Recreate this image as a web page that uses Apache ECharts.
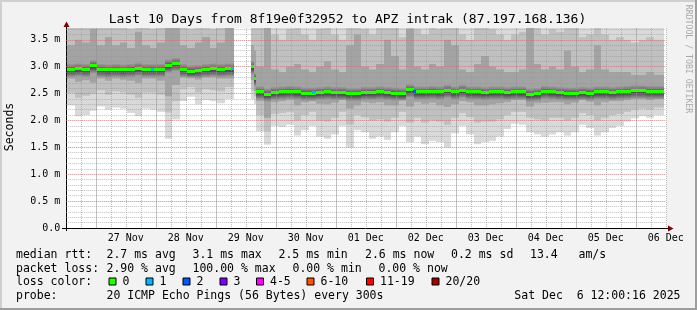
<!DOCTYPE html>
<html><head><meta charset="utf-8">
<script src="https://cdn.jsdelivr.net/npm/echarts@6/dist/echarts.min.js"></script>
<style>html,body{margin:0;padding:0;background:#f2f2f2}#c{width:697px;height:310px}</style>
</head><body><div id="c"></div><script>
// ---------- DATA (time in hours since 26 Nov 00:00, RTT in ms) ----------
const bucketStart = [12.5,15.5,18.5,21.5,24.5,27.5,30.5,33.5,36.5,39.5,42.5,45.5,48.5,51.5,54.5,57.5,60.5,63.5,66.5,69.5,72.5,75.5,
  79.3,
  86.1,87.1,
  88.1,91.1,94.1,97.1,100.1,103.1,106.1,109.1,112.1,115.1,118.1,121.1,124.1,127.1,130.1,133.1,136.1,139.1,142.1,145.1,
  148.1,151.1,154.1,157.1,160.1,163.1,166.1,169.1,172.1,175.1,178.1,181.1,184.1,187.1,190.1,193.1,196.1,199.1,202.1,205.1,
  208.1,211.1,214.1,217.1,220.1,223.1,226.1,229.1,232.1,235.1,238.1,241.1,244.1,247.1,250.1,
  251.3];
const medianRtt = [2.95,2.96,2.95,3.02,2.95,2.94,2.95,2.94,2.95,2.97,2.95,2.95,2.95,3.03,3.06,2.95,2.92,2.93,2.95,2.96,2.95,2.96,
  null,
  3.00,2.78,
  2.53,2.49,2.52,2.53,2.54,2.53,2.51,2.51,2.52,2.53,2.52,2.52,2.50,2.50,2.52,2.52,2.53,2.52,2.51,2.50,
  2.57,2.53,2.53,2.54,2.53,2.56,2.53,2.56,2.53,2.53,2.52,2.53,2.53,2.52,2.53,2.53,2.49,2.50,2.54,2.53,
  2.52,2.51,2.51,2.52,2.51,2.53,2.53,2.52,2.53,2.54,2.55,2.55,2.54,2.54,2.54,
  null];
const pingMin = [2.28,2.08,2.10,2.18,2.26,2.20,2.24,2.22,2.14,2.08,2.22,2.20,2.16,1.66,2.02,2.36,2.44,2.30,2.38,2.36,2.32,2.40,
  null,
  2.40,2.30,
  1.80,1.55,1.90,1.88,1.92,1.72,1.82,1.90,1.70,1.66,1.74,1.90,1.50,1.82,1.78,1.66,1.70,1.64,1.78,1.90,
  1.60,1.70,1.56,1.62,1.60,1.50,1.76,1.90,1.74,1.56,1.60,1.62,1.70,1.84,1.94,1.92,1.78,1.74,1.70,1.74,
  1.78,1.72,1.78,1.92,1.86,1.72,1.78,1.86,1.90,1.98,2.04,2.08,2.05,2.10,2.10,
  null];
const ping10 = [2.52,2.42,2.46,2.50,2.56,2.48,2.54,2.52,2.48,2.42,2.52,2.52,2.48,2.15,2.36,2.58,2.62,2.52,2.58,2.56,2.54,2.62,
  null,
  2.55,2.45,
  2.10,1.80,2.12,2.14,2.16,2.00,2.10,2.16,2.00,1.98,2.05,2.16,1.92,2.10,2.06,2.00,2.02,1.98,2.05,2.16,
  1.96,2.05,1.96,2.00,1.98,1.92,2.05,2.14,2.06,1.96,1.98,1.98,2.02,2.10,2.16,2.16,2.05,2.02,2.00,2.05,
  2.05,2.00,2.05,2.14,2.10,2.00,2.05,2.10,2.12,2.16,2.20,2.22,2.20,2.24,2.24,
  null];
const ping25 = [2.78,2.72,2.75,2.70,2.78,2.74,2.78,2.76,2.74,2.70,2.78,2.78,2.74,2.45,2.66,2.80,2.82,2.76,2.80,2.80,2.78,2.78,
  null,
  2.75,2.55,
  2.36,2.05,2.34,2.36,2.38,2.28,2.34,2.36,2.31,2.30,2.33,2.38,2.22,2.28,2.34,2.32,2.34,2.28,2.28,2.38,
  2.26,2.34,2.31,2.33,2.28,2.25,2.30,2.36,2.34,2.28,2.28,2.30,2.32,2.34,2.38,2.38,2.26,2.32,2.33,2.34,
  2.34,2.30,2.33,2.38,2.35,2.28,2.34,2.36,2.36,2.38,2.40,2.40,2.38,2.40,2.40,
  null];
const ping75 = [3.40,3.50,3.45,3.70,3.40,3.55,3.40,3.45,3.35,3.65,3.40,3.35,3.45,3.90,3.90,3.40,3.35,3.45,3.55,3.35,3.45,3.75,
  null,
  3.40,3.30,
  3.00,3.90,2.95,2.90,3.00,3.05,2.95,2.90,3.00,3.10,2.95,2.90,3.40,3.60,3.00,2.95,3.05,3.50,3.20,2.95,
  3.70,3.00,2.95,3.05,3.00,3.50,3.40,2.95,2.90,3.05,3.20,3.00,2.95,2.90,2.90,2.95,3.80,3.05,2.95,3.00,
  2.95,3.30,3.00,2.90,2.95,3.40,2.95,2.90,2.90,2.90,2.85,2.85,2.90,2.85,2.85,
  null];
const ping90 = [3.80,3.90,3.85,4.00,3.75,3.90,3.80,3.85,3.70,4.00,3.75,3.70,3.80,4.20,4.20,3.75,3.70,3.80,4.00,3.70,3.80,4.00,
  null,
  3.80,3.90,
  3.80,4.20,3.60,3.50,3.70,3.80,3.60,3.50,3.70,3.90,3.60,3.50,4.00,4.10,3.70,3.60,3.80,4.00,3.90,3.55,
  4.10,3.70,3.60,3.80,3.70,4.00,4.00,3.60,3.50,3.80,3.90,3.70,3.60,3.50,3.60,3.65,4.10,3.80,3.60,3.70,
  3.65,4.00,3.80,3.55,3.60,4.00,3.60,3.50,3.55,3.50,3.45,3.50,3.55,3.50,3.50,
  null];
const pingMax = [4.6,4.9,4.7,5.2,4.5,4.8,4.6,4.7,4.5,5.0,4.6,4.5,4.6,5.5,5.4,4.6,4.5,4.6,4.9,4.5,4.6,5.0,
  null,
  4.8,5.0,
  4.7,5.6,4.5,4.4,4.6,4.7,4.5,4.4,4.6,4.8,4.5,4.4,4.9,5.1,4.6,4.5,4.7,5.0,4.8,4.4,
  5.2,4.6,4.5,4.7,4.6,5.0,4.9,4.5,4.4,4.7,4.8,4.6,4.5,4.4,4.5,4.5,5.3,4.7,4.5,4.6,
  4.5,4.9,4.7,4.4,4.5,4.9,4.5,4.4,4.4,4.4,4.3,4.4,4.4,4.3,4.3,
  null];
const lossTimes = [46.4, 78.6, 110.8, 151.2];
const lossRtt   = [2.95, 2.96, 2.52, 2.53];
const lossCount = [1, 1, 1, 2];
const lossColors = ['#26ff00','#00b8ff','#0059ff','#7e00ff','#ff00ff','#ff5500','#ff0000','#a10000'];
const lossLabels = ['0','1','2','3','4-5','6-10','11-19','20/20'];
const dayLabelTimes = [36,60,84,108,132,156,180,204,228,252];
const dayLabels = ['27 Nov','28 Nov','29 Nov','30 Nov','01 Dec','02 Dec','03 Dec','04 Dec','05 Dec','06 Dec'];
const midnightTimes = [24,48,72,96,120,144,168,192,216,240];
const yTickValues = [0,0.5,1,1.5,2,2.5,3,3.5];
const yTickLabels = ['0.0','0.5 m','1.0 m','1.5 m','2.0 m','2.5 m','3.0 m','3.5 m'];
const titleText = 'Last 10 Days from 8f19e0f32952 to APZ intrak (87.197.168.136)';
const legendRows = [
  ['median rtt:', '2.7 ms avg', '3.1 ms max', '2.5 ms min', '2.6 ms now', '0.2 ms sd', '13.4', 'am/s'],
  ['packet loss:', '2.90 % avg', '100.00 % max', '0.00 % min', '0.00 % now'],
  ['probe:', '20 ICMP Echo Pings (56 Bytes) every 300s']
];
const stampText = 'Sat Dec  6 12:00:16 2025';

// ---------- LAYOUT / STYLE ----------
const X_MIN = 12, X_MAX = 252, Y_MAX = 3.72;
const G = {left: 65.75, top: 28, width: 600, height: 200};
const MONO = '"DejaVu Sans Mono", monospace';
const GRID_MINOR = 'rgba(150,150,150,0.6)';
const GRID_MAJOR = 'rgba(230,100,100,0.5)';

function bandData(lo, hi) {
  const out = [];
  for (let i = 0; i < bucketStart.length - 1; i++) {
    if (lo[i] == null || hi[i] == null) continue;
    out.push([bucketStart[i], bucketStart[i + 1], lo[i], hi[i]]);
  }
  return out;
}
function medData() {
  const out = [];
  for (let i = 0; i < bucketStart.length - 1; i++) {
    if (medianRtt[i] == null) continue;
    out.push([bucketStart[i], bucketStart[i + 1], medianRtt[i]]);
  }
  return out;
}
function clip(r, cs) {
  return echarts.graphic.clipRectByRect(r, {x: cs.x, y: cs.y, width: cs.width, height: cs.height});
}
function bandRender(color) {
  return function (params, api) {
    const a = api.coord([api.value(0), api.value(3)]);
    const b = api.coord([api.value(1), api.value(2)]);
    const x0 = Math.round(a[0]), x1 = Math.round(b[0]);
    const r = clip({x: x0, y: a[1], width: x1 - x0, height: b[1] - a[1]}, params.coordSys);
    return r && {type: 'rect', shape: r, style: {fill: color}};
  };
}
function haloRender(params, api) {
  const a = api.coord([api.value(0), api.value(2)]);
  const b = api.coord([api.value(1), api.value(2)]);
  const x0 = Math.round(a[0]), x1 = Math.round(b[0]);
  const r = clip({x: x0, y: a[1] - 6, width: x1 - x0, height: 14}, params.coordSys);
  return r && {type: 'rect', shape: r, style: {fill: new echarts.graphic.LinearGradient(0, 0, 0, 1, [
    {offset: 0, color: 'rgba(50,50,50,0)'},
    {offset: 0.45, color: 'rgba(50,50,50,0.75)'},
    {offset: 0.6, color: 'rgba(50,50,50,0.75)'},
    {offset: 1, color: 'rgba(50,50,50,0)'}])}};
}
function medRender(params, api) {
  const a = api.coord([api.value(0), api.value(2)]);
  const b = api.coord([api.value(1), api.value(2)]);
  const x0 = Math.round(a[0]), x1 = Math.round(b[0]);
  const y0 = Math.round(a[1] - 1.5);
  return {type: 'rect', shape: {x: x0, y: y0, width: x1 - x0, height: 3}, style: {fill: lossColors[0]}};
}
function lossRender(params, api) {
  const p = api.coord([api.value(0), api.value(1)]);
  return {type: 'rect', shape: {x: Math.round(p[0] - 1.25), y: Math.round(p[1] - 1.5), width: 3, height: 3},
    style: {fill: lossColors[api.value(2)]}};
}
function vGridRender(params, api) {
  const top = api.coord([api.value(0), Y_MAX]);
  const bot = api.coord([api.value(0), 0]);
  const x = Math.round(top[0]) + 0.5;
  return {type: 'line', shape: {x1: x, y1: bot[1], x2: x, y2: top[1]},
    style: {stroke: GRID_MAJOR, lineWidth: 1, lineDash: [1, 1]}};
}

const chart = echarts.init(document.getElementById('c'), null, {renderer: 'canvas'});
const legendGraphics = [];
const rowY = [255, 268.6, 282.2, 296];
const colX1 = [16, 106.5, 192.5, 278.5, 365, 451, 530, 578.5];
const colX2 = [16, 106.5, 192.5, 292.5, 378.5];
function txt(x, y, s, size, extra) {
  return Object.assign({type: 'text', x: x, y: y, silent: true,
    style: Object.assign({text: s, font: size + 'px ' + MONO, fill: '#000', verticalAlign: 'middle', align: 'left'}, extra || {})});
}
legendRows[0].forEach((s, i) => legendGraphics.push(txt(colX1[i], rowY[0], s, 11.5)));
legendRows[1].forEach((s, i) => legendGraphics.push(txt(colX2[i], rowY[1], s, 11.5)));
legendGraphics.push(txt(16, rowY[2], 'loss color:', 11.5));
const sqX = [108.5, 145.5, 182.5, 219.5, 256, 306.5, 366, 431.5];
lossLabels.forEach((s, i) => {
  legendGraphics.push({type: 'rect', silent: true, shape: {x: sqX[i] + 0.5, y: 278, width: 7, height: 7},
    style: {fill: lossColors[i], stroke: '#000', lineWidth: 1}});
  legendGraphics.push(txt(sqX[i] + 14, rowY[2], s, 11.5));
});
legendGraphics.push(txt(16, rowY[3], legendRows[2][0], 11.5));
legendGraphics.push(txt(106.5, rowY[3], legendRows[2][1], 11.5));
legendGraphics.push(txt(680.5, rowY[3], stampText, 11.5, {align: 'right'}));

const option = {
  backgroundColor: '#f2f2f2',
  animation: false,
  grid: {left: G.left, top: G.top, width: G.width, height: G.height, show: true, backgroundColor: '#ffffff', borderWidth: 0},
  xAxis: {
    type: 'value', min: X_MIN, max: X_MAX, interval: 6, z: 10,
    axisLine: {show: false}, axisTick: {show: false},
    axisLabel: {show: true, showMinLabel: true, showMaxLabel: true, margin: 10.5, verticalAlign: 'middle',
      color: '#000', fontFamily: MONO, fontSize: 10,
      formatter: v => { const i = dayLabelTimes.indexOf(Math.round(v)); return i >= 0 ? dayLabels[i] : ''; }},
    splitLine: {show: true, showMinLine: false, lineStyle: {color: GRID_MINOR, width: 1, type: [1, 1]}}
  },
  yAxis: [{
    type: 'value', min: 0, max: Y_MAX, interval: 0.1, z: 10,
    axisLine: {show: false}, axisTick: {show: false},
    axisLabel: {show: true, showMaxLabel: false, margin: 5.5, color: '#000', fontFamily: MONO, fontSize: 10,
      formatter: v => {
        for (let i = 0; i < yTickValues.length; i++) if (Math.abs(v - yTickValues[i]) < 1e-6) return yTickLabels[i];
        return '';
      }},
    splitLine: {show: true, showMinLine: false, showMaxLine: false, lineStyle: {color: GRID_MINOR, width: 1, type: [1, 1]}}
  }, {
    type: 'value', min: 0, max: Y_MAX, interval: 0.5, z: 11, position: 'right',
    axisLine: {show: false}, axisTick: {show: false}, axisLabel: {show: false},
    splitLine: {show: true, showMinLine: false, showMaxLine: false, lineStyle: {color: GRID_MAJOR, width: 1, type: [1, 1]}}
  }],
  series: [
    {type: 'custom', name: 'min-max', renderItem: bandRender('#d9d9d9'), data: bandData(pingMin, pingMax), encode: {x: [0, 1], y: [2, 3]}, z: 2, silent: true},
    {type: 'custom', name: 'p10-p90', renderItem: bandRender('#c0c0c0'), data: bandData(ping10, ping90), encode: {x: [0, 1], y: [2, 3]}, z: 2, silent: true},
    {type: 'custom', name: 'p25-p75', renderItem: bandRender('#a3a3a3'), data: bandData(ping25, ping75), encode: {x: [0, 1], y: [2, 3]}, z: 2, silent: true},
    {type: 'custom', name: 'core', renderItem: haloRender, data: medData(), encode: {x: [0, 1], y: 2}, z: 3, silent: true},
    {type: 'custom', name: 'midnight', renderItem: vGridRender, data: midnightTimes.map(t => [t]), encode: {x: 0}, z: 11, silent: true},
    {type: 'custom', name: 'median', renderItem: medRender, data: medData(), encode: {x: [0, 1], y: 2}, z: 20, silent: true},
    {type: 'custom', name: 'loss', renderItem: lossRender, data: lossTimes.map((t, i) => [t, lossRtt[i], lossCount[i]]), encode: {x: 0, y: 1}, z: 21, silent: true}
  ],
  graphic: [
    {type: 'rect', silent: true, shape: {x: 0, y: 0, width: 697, height: 2}, style: {fill: '#cfcfcf'}},
    {type: 'rect', silent: true, shape: {x: 0, y: 0, width: 2, height: 310}, style: {fill: '#cfcfcf'}},
    {type: 'rect', silent: true, shape: {x: 0, y: 308, width: 697, height: 2}, style: {fill: '#9e9e9e'}},
    {type: 'rect', silent: true, shape: {x: 695, y: 0, width: 2, height: 310}, style: {fill: '#9e9e9e'}},
    {type: 'line', silent: true, shape: {x1: 66.5, y1: 231, x2: 66.5, y2: 26}, style: {stroke: '#000', lineWidth: 1}},
    {type: 'line', silent: true, shape: {x1: 62, y1: 228.5, x2: 669, y2: 228.5}, style: {stroke: '#000', lineWidth: 1}},
    {type: 'polygon', silent: true, shape: {points: [[63.5, 27], [69.5, 27], [66.5, 21.5]]}, style: {fill: '#7f0000'}},
    {type: 'polygon', silent: true, shape: {points: [[668, 225.5], [668, 231.5], [673.5, 228.5]]}, style: {fill: '#7f0000'}},
    txt(347.5, 19.5, titleText, 13, {align: 'center'}),
    {type: 'text', x: 10.5, y: 127, rotation: Math.PI / 2, silent: true,
      style: {text: 'Seconds', font: '11.5px ' + MONO, fill: '#000', align: 'center', verticalAlign: 'middle'}},
    {type: 'text', x: 688, y: 59, rotation: -Math.PI / 2, silent: true,
      style: {text: 'RRDTOOL / TOBI OETIKER', font: '8.2px ' + MONO, fill: '#a9a9a9', align: 'center', verticalAlign: 'middle'}}
  ].concat(legendGraphics)
};
chart.setOption(option);
</script></body></html>
